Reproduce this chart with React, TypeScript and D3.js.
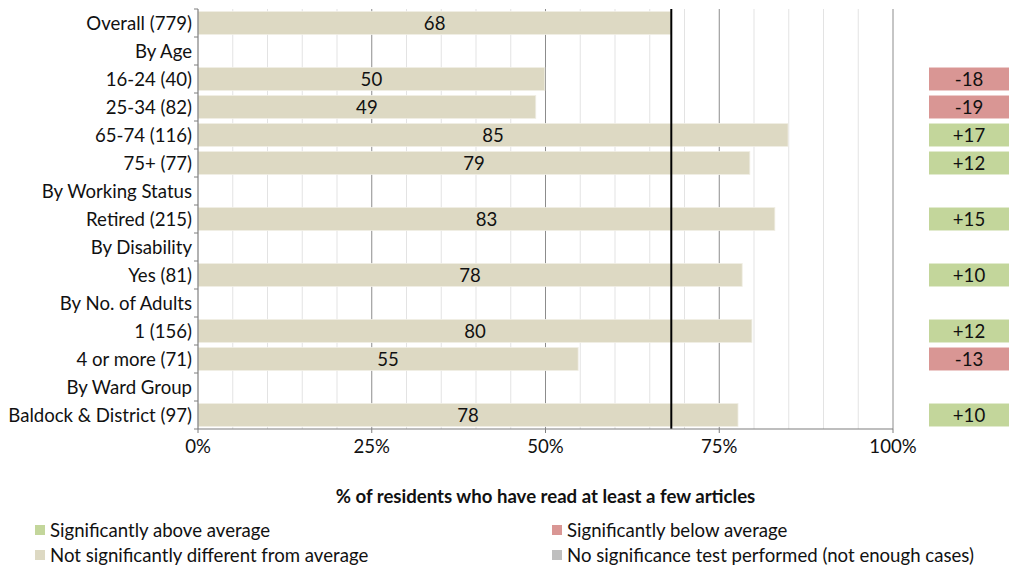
import React from "react";
import * as d3 from "d3";

const categories = [
  "Overall (779)", "By Age", "16-24 (40)", "25-34 (82)", "65-74 (116)", "75+ (77)",
  "By Working Status", "Retired (215)", "By Disability", "Yes (81)", "By No. of Adults",
  "1 (156)", "4 or more (71)", "By Ward Group", "Baldock & District (97)",
];
const values: (number | null)[] = [68.1, null, 49.9, 48.6, 84.9, 79.4, null, 83.0, null, 78.3, null, 79.7, 54.7, null, 77.7];
const diffs: (number | null)[] = [null, null, -18, -19, 17, 12, null, 15, null, 10, null, 12, -13, null, 10];
const averageValue = 68.1;
const xTicks = [0, 25, 50, 75, 100];
const minorTicks = d3.range(5, 100, 5).filter((v) => v % 25 !== 0);
const legendItems = [
  { label: "Significantly above average", color: "#c3d69b" },
  { label: "Significantly below average", color: "#d99694" },
  { label: "Not significantly different from average", color: "#ddd9c3" },
  { label: "No significance test performed (not enough cases)", color: "#bfbfbf" },
];

const W = 1009, H = 566;
const left = 198, right = 893, top = 9, bottom = 429;
const font = "Lato, 'Open Sans', sans-serif";
const fs = 18.6;

export default function App() {
  const x = d3.scaleLinear().domain([0, 100]).range([left, right]);
  const y = d3.scaleBand().domain(categories).range([top, bottom]).paddingInner(0.18).paddingOuter(0.09);
  const step = y.step();
  return (
    <svg width={W} height={H} style={{ position: "absolute", left: 0, top: 0, background: "#fff" }}>
      {minorTicks.map((t) => (
        <line key={"m" + t} x1={x(t)} x2={x(t)} y1={top} y2={bottom} stroke="#e3e3e3" strokeWidth={1} />
      ))}
      {xTicks.slice(1).map((t) => (
        <line key={"M" + t} x1={x(t)} x2={x(t)} y1={top} y2={bottom} stroke="#8c8c8c" strokeWidth={1} />
      ))}
      {categories.map((c, i) => {
        const v = values[i];
        if (v == null) return null;
        const y0 = y(c)!;
        return (
          <g key={c}>
            <rect x={x(0)} y={y0} width={x(v) - x(0)} height={y.bandwidth()} fill="#ddd9c3" stroke="#f0eee4" strokeWidth={0.8} />
            <text x={(x(0) + x(v)) / 2} y={y0 + y.bandwidth() / 2} dy="0.36em" textAnchor="middle" fontFamily={font} fontSize={fs} fill="#111">{Math.round(v)}</text>
          </g>
        );
      })}
      {categories.map((c, i) => {
        const d = diffs[i];
        if (d == null) return null;
        const y0 = y(c)!;
        return (
          <g key={"d" + c}>
            <rect x={929} y={y0} width={80} height={y.bandwidth()} fill={d > 0 ? "#c3d69b" : "#d99694"} />
            <text x={969} y={y0 + y.bandwidth() / 2} dy="0.36em" textAnchor="middle" fontFamily={font} fontSize={fs} fill="#111">{d > 0 ? "+" + d : String(d)}</text>
          </g>
        );
      })}
      <line x1={x(averageValue)} x2={x(averageValue)} y1={top} y2={bottom} stroke="#000" strokeWidth={2} />
      {/* left axis */}
      <line x1={left} x2={left} y1={top} y2={bottom} stroke="#7f7f7f" strokeWidth={1.2} />
      {d3.range(categories.length + 1).map((i) => (
        <line key={"lt" + i} x1={left - 4} x2={left} y1={top + i * step} y2={top + i * step} stroke="#7f7f7f" />
      ))}
      {categories.map((c) => (
        <text key={"l" + c} x={left - 6} y={y(c)! + y.bandwidth() / 2} dy="0.36em" textAnchor="end" fontFamily={font} fontSize={fs} fill="#111">{c}</text>
      ))}
      {/* bottom axis */}
      <line x1={left} x2={right} y1={bottom} y2={bottom} stroke="#7f7f7f" strokeWidth={1.2} />
      {xTicks.map((t) => (
        <g key={"xt" + t}>
          <line x1={x(t)} x2={x(t)} y1={bottom} y2={bottom + 4} stroke="#7f7f7f" />
          <text x={x(t)} y={446} dy="0.36em" textAnchor="middle" fontFamily={font} fontSize={fs} fill="#111">{t + "%"}</text>
        </g>
      ))}
      <text x={(left + right) / 2} y={496} dy="0.36em" textAnchor="middle" fontFamily={font} fontSize={fs} fontWeight="bold" fill="#111">% of residents who have read at least a few articles</text>
      {legendItems.map((it, i) => {
        const col = i % 2, row = Math.floor(i / 2);
        const lx = col === 0 ? 35 : 552;
        const ly = 530 + row * 25;
        return (
          <g key={it.label}>
            <rect x={lx} y={ly - 5} width={10} height={10} fill={it.color} />
            <text x={lx + 15} y={ly} dy="0.36em" fontFamily={font} fontSize={fs} fill="#111">{it.label}</text>
          </g>
        );
      })}
    </svg>
  );
}
